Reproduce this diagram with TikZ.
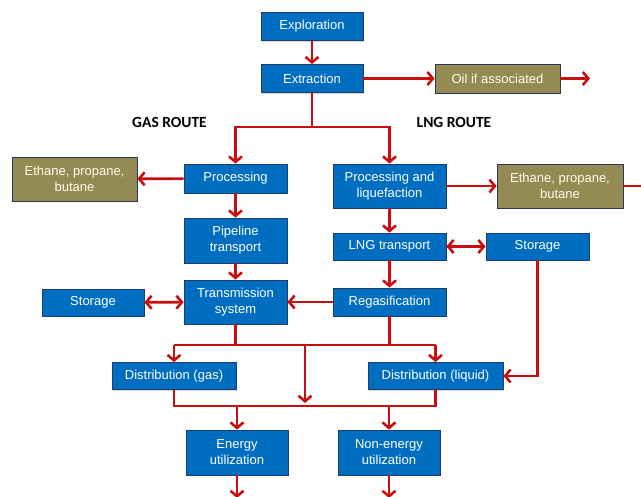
\documentclass[tikz,border=0pt]{standalone}
\usepackage{fontspec}
\setmainfont{Liberation Sans}
\newfontfamily\routefont{Carlito}
\usetikzlibrary{arrows.meta,shadows}
\definecolor{chainblue}{RGB}{0,110,192}
\definecolor{chainedge}{RGB}{30,60,110}
\definecolor{chainolive}{RGB}{148,138,84}
\definecolor{chainoedge}{RGB}{40,55,90}
\definecolor{chainred}{RGB}{200,14,14}

\begin{document}
\begin{tikzpicture}[x=1pt, y=-1pt,
      stage/.style={rectangle, draw=chainedge, fill=chainblue, text=white, inner sep=0pt, minimum width=103pt, align=center, font=\fontsize{13}{16}\selectfont, line width=0.8pt, drop shadow={shadow xshift=1.2pt, shadow yshift=-1.2pt, opacity=0.3}},
      byprod/.style={stage, draw=chainoedge, fill=chainolive, text=white!92!yellow},
      route/.style={font=\routefont\fontsize{15.5}{18}\selectfont\bfseries, text=black},
      wire/.style={line width=2.6pt, chainred},
      flow/.style={wire, -{Straight Barb[length=5.5pt, width=13pt]}},
      both/.style={wire, {Straight Barb[length=5.5pt, width=13pt]}-{Straight Barb[length=5.5pt, width=13pt]}}
    ]
      \useasboundingbox (0,0) rectangle (641,497);

      \node[stage, minimum width=102pt, minimum height=28pt] (expl) at (312,26.5) {Exploration};
      \node[stage, minimum width=102pt, minimum height=28pt] (extr) at (312,78.5) {Extraction};
      \node[byprod, minimum width=125pt, minimum height=29pt] (oil) at (497.5,78.5) {Oil if associated};

      \node[route] (gasr) at (169.5,122) {GAS ROUTE};
      \node[route] (lngr) at (454,122) {LNG ROUTE};

      \node[byprod, minimum width=125pt, minimum height=44pt] (ethl) at (74.5,179) {Ethane, propane,\\butane};
      \node[stage, minimum height=29pt] (proc) at (235.5,178.5) {Processing};
      \node[stage, minimum width=113pt, minimum height=44pt] (procliq) at (389.5,186) {Processing and\\liquefaction};
      \node[byprod, minimum width=126pt, minimum height=44pt] (ethr) at (560,186) {Ethane, propane,\\butane};

      \node[stage, minimum height=45pt] (pipe) at (235.5,240.5) {Pipeline\\transport};
      \node[stage, minimum width=113pt, minimum height=27pt] (lngt) at (389.5,246.5) {LNG transport};
      \node[stage, minimum height=27pt] (storr) at (537.5,246.5) {Storage};

      \node[stage, minimum width=102pt, minimum height=27pt] (storl) at (93,302.5) {Storage};
      \node[stage, minimum height=44pt] (trans) at (235.5,302) {Transmission\\system};
      \node[stage, minimum width=113pt, minimum height=28pt] (regas) at (389.5,302) {Regasification};

      \node[stage, minimum width=124pt, minimum height=27pt] (distg) at (174,376) {Distribution (gas)};
      \node[stage, minimum width=135pt, minimum height=27pt] (distl) at (435.5,376) {Distribution (liquid)};

      \node[stage, minimum width=102pt, minimum height=45pt] (energy) at (237,452.5) {Energy\\utilization};
      \node[stage, minimum width=102pt, minimum height=45pt] (nonen) at (389,452.5) {Non-energy\\utilization};

      \coordinate (split) at (312,127);
      \coordinate (merge) at (305,345);
      \coordinate (midend) at (305,403);
      \coordinate (join) at (305,406);
      \coordinate (oilout) at (590,78.5);
      \coordinate (ethout) at (642,186);
      \coordinate (enout) at (237,498);
      \coordinate (nonout) at (389,498);

      \draw[flow] (expl) -- (extr);
      \draw[flow] (extr) -- (oil);
      \draw[flow] (oil) -- (oilout);

      \draw[wire] (extr) -- (split);
      \draw[flow] (split) -| (proc);
      \draw[flow] (split) -| (procliq);

      \draw[flow] (proc) -- (ethl);
      \draw[flow] (procliq) -- (ethr);
      \draw[wire] (ethr) -- (ethout);

      \draw[flow] (proc) -- (pipe);
      \draw[flow] (pipe) -- (trans);
      \draw[flow] (procliq) -- (lngt);
      \draw[both] (lngt) -- (storr);
      \draw[flow] (lngt) -- (regas);
      \draw[flow] (regas) -- (trans);
      \draw[both] (storl) -- (trans);

      \draw[wire] (trans.south) |- (distg.north |- merge) -- (distl.north |- merge);
      \draw[wire] (regas.south) -- (regas.south |- merge);
      \draw[flow] (distg.north |- merge) -- (distg.north);
      \draw[flow] (distl.north |- merge) -- (distl.north);
      \draw[flow] (merge) -- (midend);
      \draw[flow] (storr.south) |- (distl.east);

      \draw[wire] (distg.south) |- (distl.south |- join) -- (distl.south);
      \draw[flow] (energy.north |- join) -- (energy.north);
      \draw[flow] (nonen.north |- join) -- (nonen.north);
      \draw[flow] (energy) -- (enout);
      \draw[flow] (nonen) -- (nonout);
    \end{tikzpicture}
\end{document}
